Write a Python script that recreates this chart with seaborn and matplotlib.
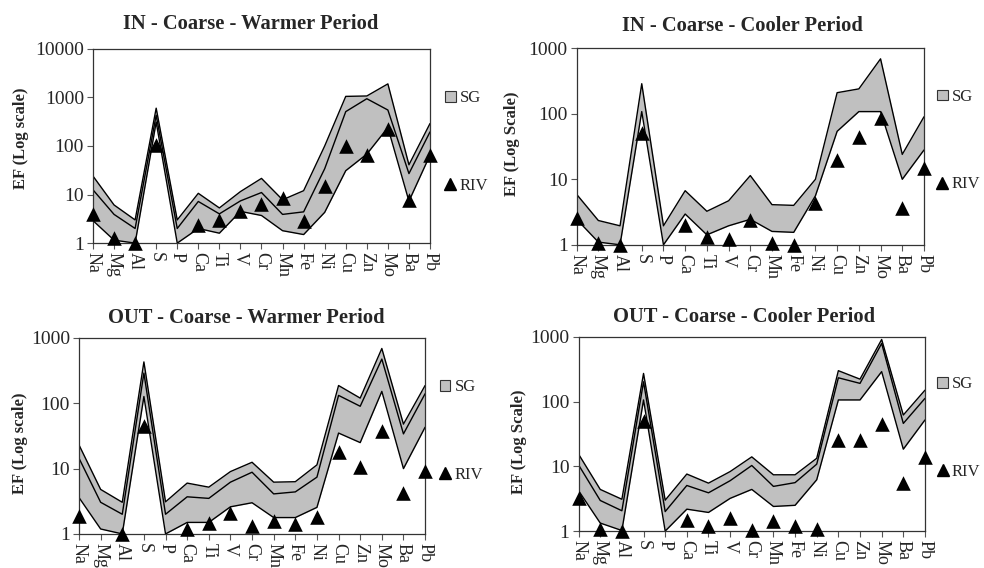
"""EF profiles (SG band + RIV points) for four coarse-fraction cases."""

import matplotlib.pyplot as plt
import numpy as np
import pandas as pd
import seaborn as sns
from matplotlib.lines import Line2D
from matplotlib.patches import Patch
from matplotlib.ticker import NullLocator

elements = ["Na", "Mg", "Al", "S", "P", "Ca", "Ti", "V", "Cr", "Mn",
            "Fe", "Ni", "Cu", "Zn", "Mo", "Ba", "Pb"]

# IN - Coarse - Warmer Period
in_warm_max = [24, 6.1, 3.0, 600, 3.0, 10.6, 5.3, 11.5, 21.5, 7.8, 12, 100, 1050, 1070, 1900, 41, 290]
in_warm_mid = [12.5, 3.9, 2.0, 430, 2.0, 7.2, 4.0, 7.4, 11, 3.9, 4.4, 34, 510, 940, 550, 27, 195]
in_warm_min = [2.9, 1.15, 1.0, 310, 1.0, 2.0, 1.6, 4.5, 3.7, 1.8, 1.5, 4.3, 31, 68, 240, 7.3, 65]
in_warm_riv = [3.9, 1.25, 1.0, 105, None, 2.4, 3.0, 4.6, 6.4, 8.3, 2.9, 15, 100, 64, 225, 7.6, 64]

# IN - Coarse - Cooler Period
in_cool_max = [5.9, 2.35, 1.95, 288, 1.95, 6.7, 3.25, 4.7, 11.4, 4.1, 4.0, 10, 210, 240, 690, 24, 90]
in_cool_min = [2.45, 1.1, 1.0, 108, 1.0, 2.95, 1.42, 1.95, 2.45, 1.6, 1.55, 5.6, 54, 108, 108, 10, 28]
in_cool_riv = [2.6, 1.06, 1.0, 51, None, 2.0, 1.3, 1.24, 2.4, 1.08, 1.0, 4.3, 19.5, 44, 87, 3.6, 14.7]

# OUT - Coarse - Warmer Period
out_warm_max = [23, 4.8, 3.05, 430, 3.1, 6.0, 5.2, 9.0, 12.5, 6.2, 6.3, 11.4, 187, 120, 690, 48, 187]
out_warm_mid = [14.4, 3.05, 2.0, 290, 2.0, 3.7, 3.5, 6.2, 8.8, 4.1, 4.4, 7.4, 132, 90, 475, 34, 140]
out_warm_min = [3.6, 1.19, 1.0, 127, 1.0, 1.5, 1.5, 2.6, 3.0, 1.78, 1.78, 2.55, 35, 25, 152, 10, 43]
out_warm_riv = [1.85, None, 1.0, 45, None, 1.18, 1.46, 2.07, 1.3, 1.55, 1.42, 1.8, 18, 10.4, 37, 4.3, 9.2]

# OUT - Coarse - Cooler Period
out_cool_max = [15.4, 4.4, 3.1, 272, 3.0, 7.6, 5.5, 8.3, 14, 7.4, 7.4, 13.3, 300, 222, 910, 62, 150]
out_cool_mid = [10.5, 2.97, 2.06, 202, 2.0, 5.06, 3.9, 6.0, 10.3, 4.9, 5.6, 10.8, 233, 191, 790, 46, 112]
out_cool_min = [4.2, 1.33, 1.02, 106, 1.0, 2.18, 1.94, 3.2, 4.4, 2.4, 2.5, 6.2, 106, 106, 290, 18.4, 52]
out_cool_riv = [3.2, 1.07, 1.0, 50, None, 1.5, 1.21, 1.59, 1.05, 1.44, 1.21, 1.07, 25.5, 25.5, 44.6, 5.5, 13.8]

panels = [
    # title, ylabel, max, mid, min, riv, ymax
    ("IN - Coarse - Warmer Period", "EF (Log scale)",
     in_warm_max, in_warm_mid, in_warm_min, in_warm_riv, 10000),
    ("IN - Coarse - Cooler Period", "EF (Log Scale)",
     in_cool_max, None, in_cool_min, in_cool_riv, 1000),
    ("OUT - Coarse - Warmer Period", "EF (Log scale)",
     out_warm_max, out_warm_mid, out_warm_min, out_warm_riv, 1000),
    ("OUT - Coarse - Cooler Period", "EF (Log Scale)",
     out_cool_max, out_cool_mid, out_cool_min, out_cool_riv, 1000),
]

# axes rect, title x, title pad, ylabel coords, legend anchor
layouts = [
    ([0.0945, 0.572, 0.3425, 0.342], 0.469, 14.5, (-0.214, 0.539), (1.045, 0.52)),
    ([0.586, 0.569, 0.353, 0.346], 0.478, 12.5, (-0.187, 0.515), (1.038, 0.53)),
    ([0.0803, 0.060, 0.3517, 0.345], 0.484, 11.0, (-0.171, 0.464), (1.043, 0.525)),
    ([0.588, 0.065, 0.352, 0.342], 0.478, 11.0, (-0.172, 0.459), (1.036, 0.53)),
]

sns.set_style("ticks")
plt.rcParams["font.family"] = ["Liberation Serif", "DejaVu Serif"]
plt.rcParams["xtick.direction"] = "out"
plt.rcParams["ytick.direction"] = "out"

fig = plt.figure(figsize=(9.84, 5.68), dpi=100)
fill_color = "#c0c0c0"

for (title, ylabel, vmax, vmid, vmin, riv, ymax), (rect, tx, tpad, lab_xy, leg_xy) in zip(panels, layouts):
    ax = fig.add_axes(rect)
    df = pd.DataFrame({
        "pos": np.arange(len(elements)),
        "max": vmax,
        "min": vmin,
        "riv": pd.to_numeric(pd.Series(riv), errors="coerce"),
    })
    if vmid is not None:
        df["mid"] = vmid

    # SG band
    ax.fill_between(df["pos"], df["min"], df["max"], color=fill_color, linewidth=0)
    for col in ["max", "mid", "min"]:
        if col in df:
            sns.lineplot(data=df, x="pos", y=col, ax=ax, color="black",
                         linewidth=1.0, sort=False, legend=False)

    # RIV points
    sns.scatterplot(data=df.dropna(subset=["riv"]), x="pos", y="riv", ax=ax,
                    marker="^", s=110, color="black", edgecolor="black",
                    linewidth=0, clip_on=False, zorder=5, legend=False)

    ax.set_yscale("log")
    ax.set_ylim(1, ymax)
    ax.set_xlim(0, len(elements) - 1)
    yt = [10 ** k for k in range(int(np.log10(ymax)) + 1)]
    ax.set_yticks(yt)
    ax.set_yticklabels([str(v) for v in yt])
    ax.yaxis.set_minor_locator(NullLocator())
    ax.set_xticks(df["pos"])
    ax.set_xticklabels(elements, rotation=-90, va="top", ha="center")
    ax.tick_params(axis="both", length=4.5, width=0.8, color="#555555", pad=2)
    ax.tick_params(axis="y", labelsize=14)
    ax.tick_params(axis="x", labelsize=13)
    for sp in ax.spines.values():
        sp.set_color("#333333")
        sp.set_linewidth(0.9)

    ax.set_xlabel("")
    ax.set_ylabel(ylabel, fontsize=12, fontweight="bold", va="center")
    ax.yaxis.set_label_coords(*lab_xy)
    ax.set_title(title, fontsize=14.8, fontweight="bold", pad=tpad, x=tx)

    handles = [
        Patch(facecolor=fill_color, edgecolor="#333333", linewidth=0.8, label="SG"),
        Line2D([], [], marker="^", linestyle="none", color="black",
               markersize=8.5, label="RIV"),
    ]
    ax.legend(handles=handles, loc="center left", bbox_to_anchor=leg_xy,
              frameon=False, fontsize=12, labelspacing=4.3, handlelength=0.62,
              handleheight=0.62, handletextpad=0.25, borderpad=0, borderaxespad=0)

fig.savefig("out.png", dpi=100)
